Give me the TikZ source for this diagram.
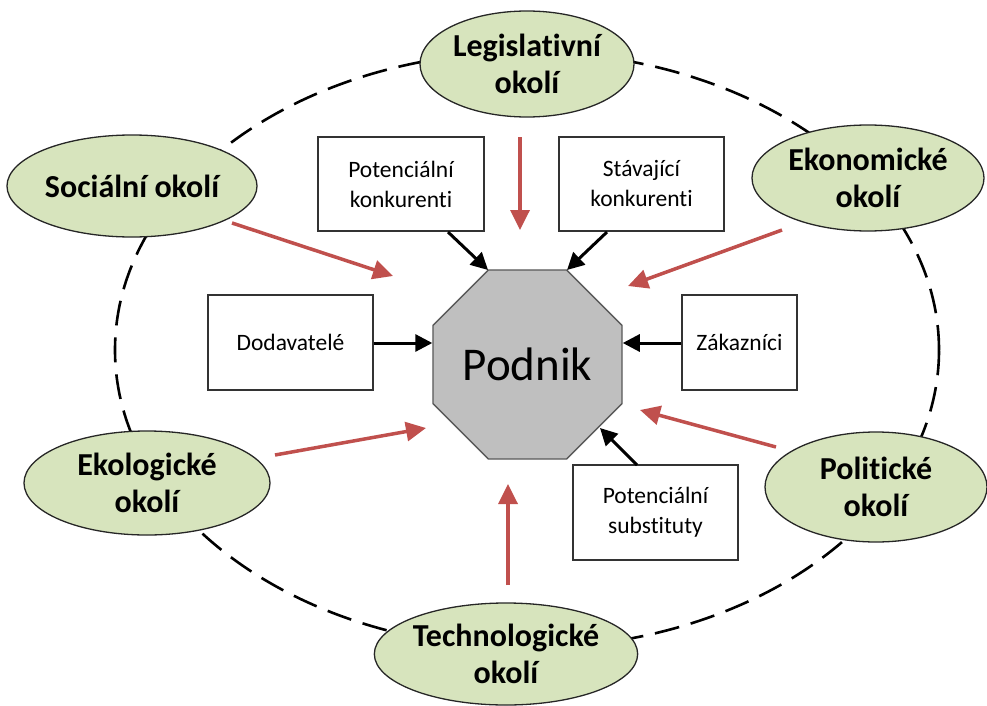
\documentclass[tikz,border=0pt]{standalone}
\usepackage{fontspec}
\setmainfont{Carlito}[Ligatures=NoCommon]
\usetikzlibrary{shapes.geometric,arrows.meta}
\definecolor{okoli}{HTML}{D7E4BD}
\definecolor{redarr}{HTML}{C0504D}
\definecolor{podnikfill}{HTML}{BFBFBF}
\tikzset{
  okolinode/.style={ellipse,draw=black!85,line width=1.3pt,fill=okoli,inner sep=0pt,align=center,
     font=\fontsize{32}{37}\selectfont\bfseries},
  boxnode/.style={rectangle,draw=black!80,line width=1.4pt,fill=white,inner sep=0pt,align=center,
     font=\fontsize{23.5}{30}\selectfont},
  blackarr/.style={line width=3pt,black,-{Triangle[length=17pt,width=17pt]}},
  redarrow/.style={line width=3.5pt,redarr,-{Triangle[length=20pt,width=19pt]}},
  bigdash/.style={line width=2.6pt,dash pattern=on 25pt off 12pt,black}
}
\begin{document}
\begin{tikzpicture}[x=1pt,y=-1pt]
\useasboundingbox (0,0) rectangle (987,706);
% dashed outer ellipse
\draw[bigdash] (527,350) ellipse [x radius=412pt, y radius=298pt];
% environment ellipses
\node[okolinode,minimum width=214pt,minimum height=106pt] (leg) at (527,64) {Legislativní\\okolí};
\node[okolinode,minimum width=250pt,minimum height=102pt] (soc) at (132,186) {Sociální okolí};
\node[okolinode,minimum width=232pt,minimum height=106pt] (eko) at (868,178) {Ekonomické\\okolí};
\node[okolinode,minimum width=246pt,minimum height=104pt] (ekl) at (147,483) {Ekologické\\okolí};
\node[okolinode,minimum width=222pt,minimum height=110pt] (pol) at (876,487) {Politické\\okolí};
\node[okolinode,minimum width=242pt,minimum height=102pt] (tech) at (506,654) {Technologické\\okolí};
% boxes
\node[boxnode,minimum width=166pt,minimum height=94pt] (pk) at (401,184) {Potenciální\\konkurenti};
\node[boxnode,minimum width=165pt,minimum height=94pt] (sk) at (641.5,184) {Stávající\\konkurenti};
\node[boxnode,minimum width=165pt,minimum height=95pt] (dod) at (290.5,342.5) {Dodavatelé};
\node[boxnode,minimum width=115pt,minimum height=95pt] (zak) at (739.5,342.5) {Zákazníci};
\node[boxnode,minimum width=165pt,minimum height=95pt] (sub) at (655.5,512.5) {Potenciální\\substituty};
% center octagon
\node[regular polygon,regular polygon sides=8,minimum size=204.6pt,inner sep=0pt,
      draw=black!65,line width=1.4pt,fill=podnikfill,font=\fontsize{47}{50}\selectfont] (pod) at (527.5,364.5) {Podnik};
% black arrows
\coordinate (pkS) at (448,232);
\coordinate (skS) at (607,232);
\coordinate (subS) at (637,465);
\coordinate (podTL) at (488,270);
\coordinate (podTR) at (567,270);
\coordinate (podBR) at (600,428);
\draw[blackarr] (pkS) -- (podTL);
\draw[blackarr] (skS) -- (podTR);
\draw[blackarr] (dod.east |- 0,343) -- (pod.west |- 0,343);
\draw[blackarr] (zak.west |- 0,343) -- (pod.east |- 0,343);
\draw[blackarr] (subS) -- (podBR);
% red arrows
\coordinate (legA) at (520,137); \coordinate (legB) at (520,230);
\coordinate (socA) at (232,223); \coordinate (socB) at (393,276);
\coordinate (ekoA) at (782,230); \coordinate (ekoB) at (628,286);
\coordinate (eklA) at (275,455); \coordinate (eklB) at (426,428);
\coordinate (polA) at (776,447); \coordinate (polB) at (640,410);
\coordinate (techA) at (508,585); \coordinate (techB) at (508,484);
\draw[redarrow] (legA) -- (legB);
\draw[redarrow] (socA) -- (socB);
\draw[redarrow] (ekoA) -- (ekoB);
\draw[redarrow] (eklA) -- (eklB);
\draw[redarrow] (polA) -- (polB);
\draw[redarrow] (techA) -- (techB);
\end{tikzpicture}
\end{document}
